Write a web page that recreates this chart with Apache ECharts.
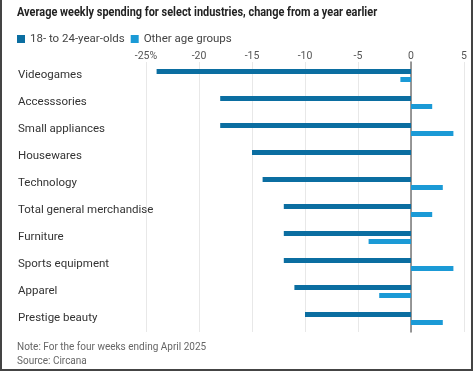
<!DOCTYPE html>
<html><head><meta charset="utf-8">
<script src="https://cdn.jsdelivr.net/npm/echarts@6/dist/echarts.min.js"></script>
<style>
html,body{margin:0;padding:0;background:#fff;}
#frame{position:absolute;left:0;top:0;width:469px;height:369px;border-left:2px solid #444;border-right:2px solid #444;border-bottom:2px solid #444;}
#c{position:absolute;left:0;top:0;width:473px;height:372px;}
</style></head>
<body>
<div id="c"></div>
<div id="frame"></div>
<script>
const categories = ["Videogames","Accesssories","Small appliances","Housewares","Technology","Total general merchandise","Furniture","Sports equipment","Apparel","Prestige beauty"];
const young = [-24,-18,-18,-15,-14,-12,-12,-12,-11,-10];
const others = [-1,2,4,0,3,2,-4,4,-3,3];
const xTicks = [-25,-20,-15,-10,-5,0,5];
const seriesNames = ["18- to 24-year-olds","Other age groups"];
const titleText = "Average weekly spending for select industries, change from a year earlier";

const chart = echarts.init(document.getElementById('c'));
const font = "Roboto, sans-serif";
chart.setOption({
  animation:false,
  legend:{left:17,top:33,padding:0,itemWidth:8,itemHeight:8,itemGap:6,icon:'rect',
    textStyle:{fontFamily:font,fontSize:11.5,color:'#444',padding:[0,0,0,0]},data:seriesNames},
  grid:{left:146,right:9,top:62,bottom:40},
  xAxis:{type:'value',position:'top',min:-25,max:5,interval:5,
    axisLine:{show:false},axisTick:{show:false},
    axisLabel:{fontFamily:font,fontSize:10.5,color:'#555',margin:0,
      formatter:v=>v===-25?'-25%':String(v)},
    splitLine:{lineStyle:{color:'#e8e8e8',width:1}}},
  yAxis:{type:'category',data:categories,inverse:true,
    axisLine:{show:true,onZero:true,lineStyle:{color:'#777',width:1.5}},
    axisTick:{show:false},
    axisLabel:{fontFamily:font,fontSize:11.5,color:'#333',align:'left',margin:128,padding:[5,0,0,0]}},
  series:[
    {name:seriesNames[0],type:'bar',data:young,barWidth:5,barGap:'60%',itemStyle:{color:'#0b6ea1'}},
    {name:seriesNames[1],type:'bar',data:others,barWidth:5,itemStyle:{color:'#1b9ad6'}}
  ],
  graphic:[
    {type:'text',left:17,top:6,scaleX:0.81,style:{text:titleText,font:'bold 13.5px '+font,fill:'#222'}},
    {type:'text',left:17,top:342,style:{text:'Note: For the four weeks ending April 2025',font:'10px '+font,fill:'#666'}},
    {type:'text',left:17,top:356,style:{text:'Source: Circana',font:'10px '+font,fill:'#666'}}
  ]
});
</script>
</body></html>
